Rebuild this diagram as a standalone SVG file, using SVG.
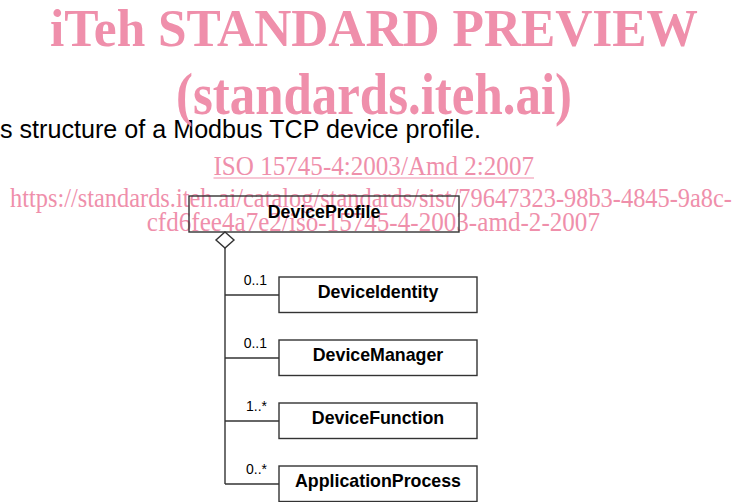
<svg xmlns="http://www.w3.org/2000/svg" width="740" height="502" viewBox="0 0 740 502">
  <style>
    .caption { font-family: "Liberation Sans", Arial, sans-serif; font-size: 25px; fill: #000; }
    .wm-title { font-family: "Liberation Serif", "Times New Roman", serif; font-size: 53px; font-weight: bold; fill: #ef8fab; text-anchor: middle; }
    .wm-sub { font-size: 60px; }
    .wm-link { font-family: "Liberation Serif", "Times New Roman", serif; font-size: 27px; fill: #ef8fab; }
    .box { fill: none; stroke: #333; stroke-width: 1.4; }
    .name { font-family: "Liberation Sans", Arial, sans-serif; font-size: 17.8px; font-weight: bold; fill: #000; text-anchor: middle; }
    .mult { font-family: "Liberation Sans", Arial, sans-serif; font-size: 14px; fill: #000; text-anchor: end; }
    .link { fill: none; stroke: #333; stroke-width: 1.4; }
  </style>

  <!-- figure caption (cut at the left edge) -->
  <text class="caption" x="0" y="138" textLength="481" lengthAdjust="spacingAndGlyphs">s structure of a Modbus TCP device profile.</text>

  <!-- preview banner -->
  <g id="banner">
    <text class="wm-title" x="374" y="46" textLength="648" lengthAdjust="spacingAndGlyphs">iTeh STANDARD PREVIEW</text>
    <text class="wm-title wm-sub" x="374" y="114" textLength="396" lengthAdjust="spacingAndGlyphs">(standards.iteh.ai)</text>
    <text class="wm-link" x="213.5" y="175" textLength="320.5" lengthAdjust="spacingAndGlyphs">ISO 15745-4:2003/Amd 2:2007</text>
    <line x1="213.5" y1="178" x2="534" y2="178" stroke="#ef8fab" stroke-width="1.2"/>
    <text class="wm-link" x="10" y="207" textLength="722" lengthAdjust="spacingAndGlyphs">https://standards.iteh.ai/catalog/standards/sist/79647323-98b3-4845-9a8c-</text>
    <text class="wm-link" x="146.7" y="231" textLength="453.3" lengthAdjust="spacingAndGlyphs">cfd6fee4a7e2/iso-15745-4-2003-amd-2-2007</text>
  </g>

  <!-- composition connectors -->
  <g id="connectors">
    <polygon class="link" points="225,232 234,240 225,248 216,240" fill="#fff"/>
    <line class="link" x1="225" y1="248" x2="225" y2="484"/>
    <line class="link" x1="225" y1="295" x2="279" y2="295"/>
    <line class="link" x1="225" y1="358" x2="279" y2="358"/>
    <line class="link" x1="225" y1="421" x2="279" y2="421"/>
    <line class="link" x1="225" y1="484" x2="279" y2="484"/>
    <text class="mult" x="267" y="285">0..1</text>
    <text class="mult" x="267" y="348">0..1</text>
    <text class="mult" x="267" y="411">1..*</text>
    <text class="mult" x="267" y="474">0..*</text>
  </g>

  <!-- classes -->
  <g id="DeviceProfile">
    <rect class="box" x="189" y="196" width="270" height="36"/>
    <text class="name" x="324" y="218">DeviceProfile</text>
  </g>
  <g id="DeviceIdentity">
    <rect class="box" x="279" y="277" width="198" height="35.5"/>
    <text class="name" x="378" y="298">DeviceIdentity</text>
  </g>
  <g id="DeviceManager">
    <rect class="box" x="279" y="340" width="198" height="35.5"/>
    <text class="name" x="378" y="361">DeviceManager</text>
  </g>
  <g id="DeviceFunction">
    <rect class="box" x="279" y="403" width="198" height="35.5"/>
    <text class="name" x="378" y="424">DeviceFunction</text>
  </g>
  <g id="ApplicationProcess">
    <rect class="box" x="279" y="466" width="198" height="35.5"/>
    <text class="name" x="378" y="487">ApplicationProcess</text>
  </g>
</svg>
